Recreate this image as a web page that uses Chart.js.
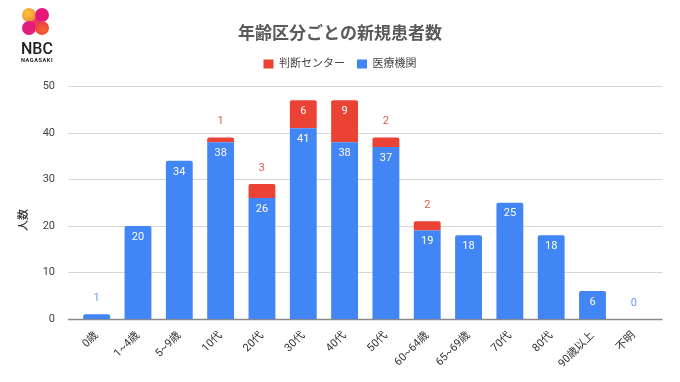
<!DOCTYPE html>
<html>
<head>
<meta charset="utf-8">
<script src="https://cdn.jsdelivr.net/npm/chart.js@4.4.1/dist/chart.umd.min.js"></script>
<style>
  html, body { margin: 0; padding: 0; background: #fff; }
  #wrap { position: relative; width: 680px; height: 382px; overflow: hidden; }
  #c { position: absolute; left: 0; top: 0; }
  .logo { position: absolute; left: 20px; top: 0; width: 40px; height: 66px; }
  .dot { position: absolute; width: 14px; height: 14px; border-radius: 50%; }
  .band { position: absolute; left: 11px; top: 12px; width: 8px; height: 20px; transform: rotate(-40deg); background: #ea3a62; }
  .nbc { position: absolute; left: 1px; top: 41px; font: 500 16px/1 Roboto, "Open Sans", sans-serif; color: #222; }
  .naga { position: absolute; left: 1px; top: 58px; font: 700 5.6px/1 Roboto, sans-serif; color: #222; letter-spacing: 0.55px; }
</style>
</head>
<body>
<div id="wrap">
  <canvas id="c" width="680" height="382"></canvas>
  <div class="logo">
    <div class="band"></div>
    <div class="dot" style="left:2px;top:8px;background:radial-gradient(circle at 40% 35%,#fbc73a,#f59a35 60%,#ee5f6a);"></div>
    <div class="dot" style="left:15px;top:8px;background:#e5177b;"></div>
    <div class="dot" style="left:2px;top:21px;background:#e11e7c;"></div>
    <div class="dot" style="left:15px;top:21px;background:radial-gradient(circle at 60% 65%,#f36a2a,#ee3d4a 70%,#e52a6e);"></div>
    <div class="nbc">NBC</div>
    <div class="naga">NAGASAKI</div>
  </div>
</div>
<script>
// ---- data ----
const categories = ['0歳', '1~4歳', '5~9歳', '10代', '20代', '30代', '40代', '50代', '60~64歳', '65~69歳', '70代', '80代', '90歳以上', '不明'];
const iryoKikan = [1, 20, 34, 38, 26, 41, 38, 37, 19, 18, 25, 18, 6, 0];
const handanCenter = [0, 0, 0, 1, 3, 6, 9, 2, 2, 0, 0, 0, 0, 0];
const yMax = 50;
const yStep = 10;

const FONT = 'Roboto, "Noto Sans CJK JP", sans-serif';

// extra room under the legend
const legendSpacer = {
  id: 'legendSpacer',
  afterInit(chart) {
    const fit = chart.legend.fit;
    chart.legend.fit = function () { fit.call(this); this.height += 7; };
  }
};

// grid lines drawn a bit wider than the plot, like the original
const gridPlugin = {
  id: 'wideGrid',
  beforeDatasetsDraw(chart) {
    const { ctx, chartArea, scales } = chart;
    ctx.save();
    scales.y.ticks.forEach(t => {
      const y = Math.round(scales.y.getPixelForValue(t.value)) + 0.5;
      ctx.strokeStyle = t.value === 0 ? '#8a8a8a' : '#d6d6d6';
      ctx.lineWidth = t.value === 0 ? 1.5 : 1;
      ctx.beginPath();
      ctx.moveTo(chartArea.left - 8, y);
      ctx.lineTo(chartArea.right + 8, y);
      ctx.stroke();
    });
    ctx.restore();
  }
};

const labelPlugin = {
  id: 'barLabels',
  afterDatasetsDraw(chart) {
    const ctx = chart.ctx;
    ctx.save();
    ctx.font = '11px ' + FONT;
    ctx.textAlign = 'center';
    ctx.textBaseline = 'middle';
    chart.data.datasets.forEach((ds, di) => {
      const meta = chart.getDatasetMeta(di);
      meta.data.forEach((bar, i) => {
        const v = ds.data[i];
        if (v === 0 && di === 1) return;
        const h = bar.base - bar.y;
        if (h >= 18) {
          ctx.fillStyle = '#ffffff';
          ctx.fillText(String(v), bar.x, bar.y + 11);
        } else {
          ctx.fillStyle = ds.outsideLabelColor;
          ctx.fillText(String(v), bar.x, bar.y - 16);
        }
      });
    });
    ctx.restore();
  }
};

const yTitlePlugin = {
  id: 'yTitle',
  afterDraw(chart) {
    const ctx = chart.ctx;
    ctx.save();
    ctx.translate(24, 220);
    ctx.rotate(-Math.PI / 2);
    ctx.font = '500 11px ' + FONT;
    ctx.fillStyle = '#333';
    ctx.textAlign = 'center';
    ctx.textBaseline = 'middle';
    ctx.fillText('人数', 0, 0);
    ctx.restore();
  }
};

new Chart(document.getElementById('c'), {
  type: 'bar',
  data: {
    labels: categories,
    datasets: [
      {
        label: '医療機関',
        data: iryoKikan,
        backgroundColor: '#4285f4',
        outsideLabelColor: '#6f9de9',
        barPercentage: 0.65,
        categoryPercentage: 1,
        borderRadius: 2
      },
      {
        label: '判断センター',
        data: handanCenter,
        backgroundColor: '#ea4335',
        outsideLabelColor: '#dc5a4e',
        barPercentage: 0.65,
        categoryPercentage: 1,
        borderRadius: 2
      }
    ]
  },
  options: {
    responsive: false,
    animation: false,
    layout: { padding: 0 },
    plugins: {
      title: {
        display: true,
        text: '年齢区分ごとの新規患者数',
        color: '#5a5a5a',
        font: { family: FONT, size: 17, weight: 'bold' },
        padding: { top: 25, bottom: 1 }
      },
      legend: {
        reverse: true,
        labels: {
          boxWidth: 10,
          boxHeight: 9,
          color: '#444',
          font: { family: FONT, size: 11 },
          padding: 12
        }
      },
      tooltip: { enabled: false }
    },
    scales: {
      x: {
        stacked: true,
        grid: { display: false },
        border: { display: false },
        ticks: {
          maxRotation: 45,
          minRotation: 45,
          color: '#333',
          font: { family: FONT, size: 11 },
          padding: 2
        },
        afterFit(s) { s.height = 63; }
      },
      y: {
        stacked: true,
        min: 0,
        max: yMax,
        grid: { display: false },
        border: { display: false },
        ticks: {
          stepSize: yStep,
          color: '#444',
          padding: 13,
          font: { family: FONT, size: 11 }
        },
        afterFit(s) { s.width = 76; }
      },
      // empty right axis: only keeps the right margin so title/legend stay centred on the page
      yRight: {
        position: 'right',
        grid: { display: false },
        border: { display: false },
        ticks: { display: false },
        afterFit(s) { s.width = 25.5; }
      }
    }
  },
  plugins: [legendSpacer, gridPlugin, labelPlugin, yTitlePlugin]
});
</script>
</body>
</html>
